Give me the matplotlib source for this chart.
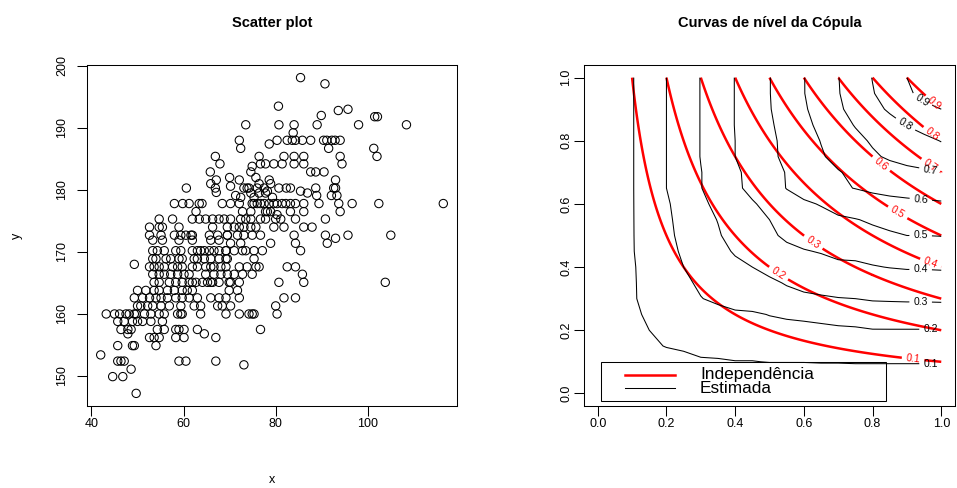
import numpy as np
import pandas as pd
import matplotlib
matplotlib.use("Agg")
import matplotlib.pyplot as plt
from matplotlib.patches import Rectangle
from matplotlib.lines import Line2D

plt.rcParams['font.family'] = ['Liberation Sans', 'DejaVu Sans']

# weight (kg), height (cm) pairs, grouped by area of the cloud
topo = [(85.4, 198.1), (90.7, 197.1), (80.6, 193.5), (89.9, 192.0), (93.6, 192.8),
        (95.7, 193.0), (101.5, 191.8), (102.1, 191.8)]

direita = [(89.0, 190.5), (98.0, 190.5), (108.4, 190.5),
           (90.4, 188.0), (91.1, 188.0), (92.2, 188.0), (92.9, 188.0), (94.0, 188.0),
           (91.5, 186.7), (101.3, 186.7), (94.0, 185.4), (102.0, 185.4), (94.4, 184.2),
           (88.7, 182.9), (90.5, 182.9), (93.0, 181.6),
           (88.7, 180.3), (92.6, 180.3), (93.0, 180.3),
           (88.9, 179.1), (92.1, 179.1), (93.3, 179.1),
           (89.4, 177.8), (93.7, 177.8), (96.6, 177.8), (102.4, 177.8), (116.4, 177.8),
           (94.0, 176.5), (90.8, 175.3),
           (90.8, 172.7), (93.0, 172.2), (95.7, 172.7), (105.0, 172.7),
           (91.2, 171.4), (103.8, 165.1)]

esquerda = [(49.3, 168.0), (49.3, 162.6), (50.0, 161.3), (50.0, 163.8),
            (43.2, 160.0), (45.0, 160.0), (46.1, 160.0), (47.5, 160.0), (48.2, 160.0),
            (49.3, 160.0), (49.7, 160.0),
            (45.7, 158.8), (47.1, 158.8), (48.9, 158.8), (50.0, 158.8),
            (46.4, 157.5), (47.9, 157.5), (48.6, 157.5)]

base = [(47.9, 156.8), (64.5, 156.8),
        (52.6, 156.2), (53.6, 156.2), (54.7, 156.2), (58.3, 156.2), (60.1, 156.2), (67.0, 156.2),
        (45.7, 154.9), (48.9, 154.9), (49.3, 154.9), (54.0, 154.9),
        (42.0, 153.4),
        (45.7, 152.4), (46.4, 152.4), (47.1, 152.4), (59.0, 152.4), (60.5, 152.4),
        (67.0, 152.4), (73.1, 151.8),
        (48.6, 151.1), (44.6, 149.9), (46.8, 149.9), (49.7, 147.2)]

nucleo_sup_esq = [(66.9, 185.4), (67.9, 184.2), (65.8, 182.9), (67.1, 181.6), (65.9, 181.0),
                  (66.9, 180.3), (67.1, 179.6), (60.6, 180.3),
                  (58.0, 177.8), (59.8, 177.8), (61.2, 177.8), (63.4, 177.8), (64.0, 177.8),
                  (68.4, 177.8), (62.7, 176.5),
                  (57.6, 175.3), (61.9, 175.3), (63.4, 175.3), (64.8, 175.3), (66.3, 175.3),
                  (67.7, 175.3), (68.8, 175.3), (54.7, 175.3),
                  (52.6, 174.0), (54.7, 174.0), (55.4, 174.0), (59.0, 174.0), (66.3, 174.0)]

nucleo_sup_dir = [(73.5, 190.5), (80.7, 190.5), (84.0, 190.5), (83.8, 189.2),
                  (72.1, 188.0), (72.4, 186.7),
                  (78.6, 187.4), (80.3, 188.0), (82.5, 188.0), (83.6, 188.0), (84.3, 188.0),
                  (85.8, 188.0), (87.6, 188.0),
                  (76.4, 185.4), (81.8, 185.4), (84.0, 185.4), (86.1, 185.4),
                  (76.7, 184.2), (77.8, 184.2), (79.6, 184.2), (81.4, 184.2), (84.0, 184.2),
                  (86.1, 184.2), (74.9, 183.8), (74.6, 182.9), (87.6, 182.9),
                  (70.0, 182.0), (72.1, 181.6), (73.1, 180.3), (74.2, 180.3), (76.0, 180.3),
                  (78.2, 179.8), (78.6, 181.6), (80.7, 180.3), (83.2, 180.3), (85.4, 179.8),
                  (86.9, 179.5), (82.3, 180.3),
                  (70.2, 180.6), (71.3, 179.1), (72.4, 178.8), (73.8, 180.3),
                  (70.2, 177.8), (72.1, 177.8), (74.9, 177.8), (75.3, 177.8), (76.0, 177.8),
                  (76.7, 177.8), (77.5, 177.8), (78.6, 177.8), (79.6, 177.8), (80.3, 177.8),
                  (81.4, 177.8), (82.2, 177.8), (83.2, 177.8), (84.3, 177.8), (86.1, 177.8),
                  (78.2, 176.5), (80.3, 176.0), (83.2, 176.5), (86.1, 176.5),
                  (70.2, 175.3), (72.4, 175.3), (74.6, 175.3), (76.7, 175.3), (81.1, 175.3),
                  (84.3, 175.3),
                  (75.7, 182.0), (76.4, 181.0), (78.9, 181.0), (77.5, 180.3), (74.6, 179.5),
                  (76.4, 179.5), (77.8, 179.5), (75.3, 178.8), (79.3, 178.8), (72.8, 176.5),
                  (74.6, 176.5), (77.8, 176.5), (78.9, 176.5), (73.5, 175.3), (77.8, 175.3),
                  (80.0, 175.3)]

nucleo_inf_esq = [(52.6, 172.7), (55.1, 172.7), (58.0, 172.7), (59.4, 172.7), (60.5, 172.7),
                  (61.6, 172.7), (61.9, 172.7), (65.6, 172.7), (67.4, 172.7), (69.5, 172.7),
                  (53.3, 171.9), (55.4, 171.9), (59.0, 171.9), (61.9, 171.9), (65.9, 171.9),
                  (67.7, 171.9),
                  (53.3, 170.2), (54.3, 170.2), (55.8, 170.2), (58.3, 170.2), (59.4, 170.2),
                  (61.9, 170.2), (63.0, 170.2), (63.7, 170.2), (64.5, 170.2), (65.6, 170.2),
                  (66.6, 170.2), (67.7, 170.2), (69.2, 170.2),
                  (53.3, 168.9), (54.0, 168.9), (56.2, 168.9), (57.2, 168.9), (59.0, 168.9),
                  (59.7, 168.9), (62.3, 168.9), (63.0, 168.9), (64.5, 168.9), (65.9, 168.9),
                  (67.7, 168.9), (69.2, 168.9),
                  (52.6, 167.6), (53.6, 167.6), (54.7, 167.6), (55.8, 167.6), (57.6, 167.6),
                  (58.7, 167.6), (59.7, 167.6), (61.9, 167.6), (63.0, 167.6), (64.8, 167.6),
                  (65.9, 167.6), (66.6, 167.6), (68.1, 167.6),
                  (53.3, 166.4), (54.7, 166.4), (55.8, 166.4), (57.2, 166.4), (58.7, 166.4),
                  (60.1, 166.4), (61.2, 166.4), (64.8, 166.4), (66.6, 166.4), (68.1, 166.4),
                  (53.6, 165.1), (54.7, 165.1), (56.9, 165.1), (58.3, 165.1), (59.7, 165.1),
                  (61.2, 165.1), (61.9, 165.1), (62.7, 165.1), (64.1, 165.1), (65.2, 165.1),
                  (65.9, 165.1), (66.3, 165.1), (67.7, 165.1), (69.9, 165.1),
                  (51.8, 163.8), (53.6, 163.8), (54.7, 163.8), (56.5, 163.8), (58.0, 163.8),
                  (59.7, 163.8), (60.8, 163.8), (61.9, 163.8),
                  (51.1, 162.6), (52.6, 162.6), (54.0, 162.6), (55.1, 162.6), (56.5, 162.6),
                  (58.3, 162.6), (59.7, 162.6), (61.2, 162.6), (63.0, 162.6), (65.9, 162.6),
                  (67.7, 162.6),
                  (50.7, 161.3), (52.2, 161.3), (53.3, 161.3), (55.1, 161.3), (56.9, 161.3),
                  (59.4, 161.3), (62.3, 161.3), (63.7, 161.3), (67.4, 161.3), (68.4, 161.3),
                  (51.5, 160.0), (52.9, 160.0), (54.7, 160.0), (55.8, 160.0), (58.7, 160.0),
                  (59.4, 160.0), (59.7, 160.0), (63.7, 160.0),
                  (51.1, 158.8), (52.9, 158.8), (55.4, 158.8),
                  (54.3, 157.5), (55.8, 157.5), (58.3, 157.5), (59.0, 157.5), (60.1, 157.5),
                  (63.0, 157.5)]

nucleo_inf_dir = [(69.5, 174.0), (71.0, 174.0), (72.1, 174.0), (73.1, 174.0), (74.6, 174.0),
                  (75.7, 174.0), (79.6, 174.0), (81.8, 174.0), (86.1, 174.0), (87.9, 174.0),
                  (69.5, 172.7), (71.7, 172.7), (73.1, 172.7), (74.9, 172.7), (76.7, 172.7),
                  (84.0, 172.7),
                  (70.2, 171.4), (72.4, 171.4), (78.9, 171.4), (84.3, 171.4),
                  (69.2, 170.2), (71.0, 170.2), (72.8, 170.2), (73.5, 170.2), (75.3, 170.2),
                  (77.1, 170.2), (85.4, 170.2),
                  (69.5, 168.9), (75.3, 168.9),
                  (69.2, 167.6), (72.1, 167.6), (73.8, 167.6), (75.7, 167.6), (76.4, 167.6),
                  (82.5, 167.6), (84.3, 167.6),
                  (69.5, 166.4), (71.0, 166.4), (72.8, 166.4), (74.9, 166.4), (85.8, 166.4),
                  (70.2, 165.1), (72.1, 165.1), (80.7, 165.1), (86.1, 165.1),
                  (69.9, 163.8), (71.7, 163.8),
                  (69.2, 162.6), (72.1, 162.6), (81.8, 162.6), (84.3, 162.6),
                  (70.2, 161.3), (80.0, 161.3),
                  (69.2, 160.0), (72.1, 160.0), (74.2, 160.0), (74.9, 160.0), (75.3, 160.0),
                  (80.3, 160.0), (76.7, 157.5)]

pontos = (topo + direita + esquerda + base + nucleo_sup_esq + nucleo_sup_dir
          + nucleo_inf_esq + nucleo_inf_dir)
peso = np.array([p[0] for p in pontos])
altura = np.array([p[1] for p in pontos])

niveis = [0.1, 0.2, 0.3, 0.4, 0.5, 0.6, 0.7, 0.8, 0.9]
ticks_cop = [0.0, 0.2, 0.4, 0.6, 0.8, 1.0]

fig = plt.figure(figsize=(9.57, 4.88), dpi=100)
ax1 = fig.add_axes([87 / 957, 82 / 488, 370 / 957, 341 / 488])
ax2 = fig.add_axes([584 / 957, 82 / 488, 371 / 957, 341 / 488])


def estilo_r(ax, ypad):
    for s in ax.spines.values():
        s.set_linewidth(0.75)
    ax.tick_params(direction='out', length=7, width=0.75, labelsize=9, pad=1.5)
    ax.tick_params(axis='y', labelrotation=90, pad=ypad)
    for t in ax.get_yticklabels():
        t.set_va('center')


# scatter
ax1.scatter(peso, altura, s=36, facecolors='none', edgecolors='black', linewidths=0.75)
dx = 0.04 * (peso.max() - peso.min())
dy = 0.04 * (altura.max() - altura.min())
ax1.set_xlim(peso.min() - dx, peso.max() + dx)
ax1.set_ylim(altura.min() - dy, altura.max() + dy)
ax1.set_xticks([40, 60, 80, 100])
ax1.set_yticks([150, 160, 170, 180, 190, 200])
ax1.set_title('Scatter plot', fontweight='bold', fontsize=10.5, pad=27)
ax1.set_xlabel('x', fontsize=9, labelpad=32)
ax1.set_ylabel('y', fontsize=9, labelpad=24)
estilo_r(ax1, 6.5)

# empirical copula from the pseudo-observations
n = len(peso)
u = pd.Series(peso).rank().to_numpy() / (n + 1)
v = pd.Series(altura).rank().to_numpy() / (n + 1)
grade = np.linspace(0, 1, 21)
C_emp = np.array([[np.mean((u <= a) & (v <= b)) for a in grade] for b in grade])

g = np.linspace(0, 1, 201)
C_ind = np.outer(g, g)

cs_ind = ax2.contour(g, g, C_ind, levels=niveis, colors='red', linewidths=1.8)
cs_emp = ax2.contour(grade, grade, C_emp, levels=niveis, colors='black', linewidths=0.75)

pos_ind = [(0.918, 0.109), (0.526, 0.38), (0.627, 0.478), (0.969, 0.413), (0.873, 0.573),
           (0.825, 0.727), (0.969, 0.722), (0.974, 0.821), (0.979, 0.919)]
pos_emp = [(0.969, 0.1), (0.969, 0.2), (0.94, 0.297), (0.94, 0.404), (0.94, 0.5),
           (0.94, 0.607), (0.968, 0.707), (0.897, 0.854), (0.945, 0.93)]
ax2.clabel(cs_ind, manual=pos_ind, inline=True, fmt='%.1f', fontsize=7.5, colors='red')
ax2.clabel(cs_emp, manual=pos_emp, inline=True, fmt='%.1f', fontsize=7.5, colors='black')

ax2.set_xlim(-0.04, 1.04)
ax2.set_ylim(-0.04, 1.04)
ax2.set_xticks(ticks_cop)
ax2.set_yticks(ticks_cop)
ax2.set_xticklabels(['%.1f' % t for t in ticks_cop])
ax2.set_yticklabels(['%.1f' % t for t in ticks_cop])
ax2.set_title('Curvas de nível da Cópula', fontweight='bold', fontsize=10.5, pad=27)
estilo_r(ax2, 1.5)

# legend box
ax2.add_patch(Rectangle((0.046, 0.015), 0.767, 0.115, transform=ax2.transAxes,
                        fill=False, edgecolor='black', linewidth=0.75))
ax2.add_line(Line2D([0.111, 0.245], [0.091, 0.091], transform=ax2.transAxes,
                    color='red', linewidth=1.8))
ax2.add_line(Line2D([0.111, 0.245], [0.052, 0.052], transform=ax2.transAxes,
                    color='black', linewidth=0.75))
ax2.text(0.313, 0.091, 'Independência', transform=ax2.transAxes, fontsize=12.4, va='center')
ax2.text(0.313, 0.052, 'Estimada', transform=ax2.transAxes, fontsize=12.4, va='center')

fig.savefig('out.png', dpi=100)
